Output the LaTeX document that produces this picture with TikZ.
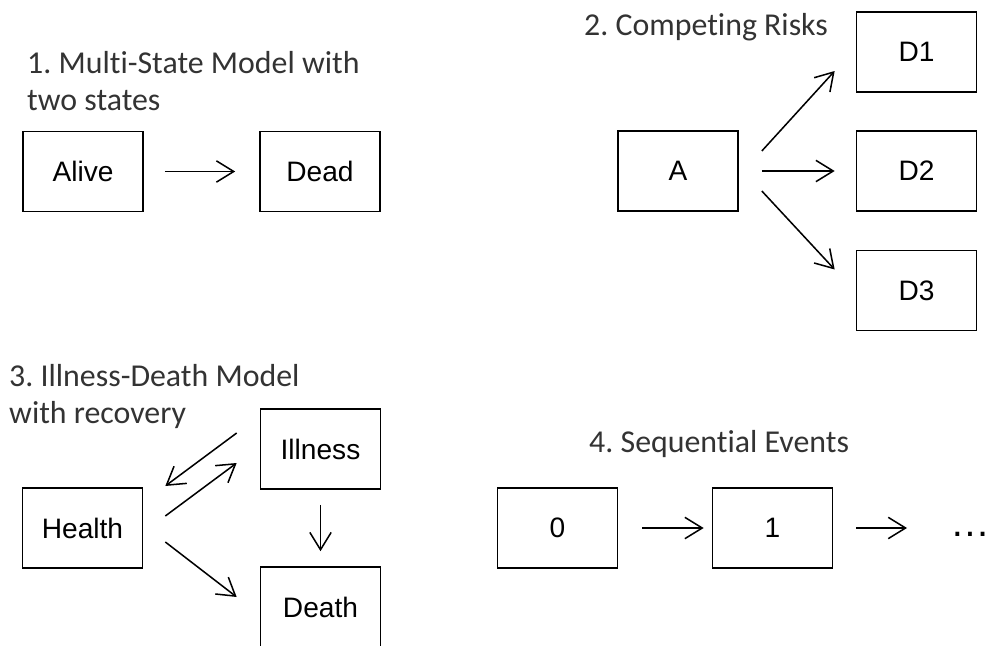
\documentclass[tikz,border=0pt]{standalone}
\usepackage{fontspec}
\setmainfont{Liberation Sans}
\newfontfamily\titlefont[Ligatures=NoCommon]{Carlito}
\usetikzlibrary{arrows.meta,calc}
\frenchspacing

\begin{document}
\begin{tikzpicture}[x=0.3mm,y=-0.3mm,
  state/.style={draw,line width=1.4pt,minimum width=36mm,minimum height=24mm,font=\fontsize{24}{28}\selectfont},
  heading/.style={anchor=base west,align=left,inner sep=0pt,text=black!80,font=\titlefont\fontsize{27.2}{31.5}\selectfont},
  trans/.style={-{Straight Barb[length=5.2mm,width=6.4mm]},line width=1.3pt}]
\useasboundingbox (0,0) rectangle (994,646);
\node[heading] (title1) at (27,110) {1. Multi-State Model with\\two states};
\node[heading] (title2) at (584,35) {2. Competing Risks};
\node[heading] (title3) at (9,423) {3. Illness-Death Model\\with recovery};
\node[heading] (title4) at (589,452) {4. Sequential Events};
\node[state] (alive) at (83,171.5) {Alive};
\node[state] (dead) at (320,171.5) {Dead};
\draw[trans] ($(alive.east)+(21,0)$) -- ($(dead.west)+(-24,0)$);
\node[state] (A) at (678,171) {A};
\node[state] (D1) at (916.5,52) {D1};
\node[state] (D2) at (916.5,171) {D2};
\node[state] (D3) at (916.5,290.5) {D3};
\draw[trans] ($(A.east)+(23,-20)$) -- ($(D1.west)+(-21,19)$);
\draw[trans] ($(A.east)+(23,0)$) -- ($(D2.west)+(-21,0)$);
\draw[trans] ($(A.east)+(23,20)$) -- ($(D3.west)+(-21,-21)$);
\node[state] (health) at (82.5,528) {Health};
\node[state] (illness) at (320.5,449) {Illness};
\node[state] (death) at (320.5,607) {Death};
\draw[trans] ($(illness.west)+(-23,-16)$) -- ($(health.east)+(22,-42)$);
\draw[trans] ($(health.east)+(22,-12)$) -- ($(illness.west)+(-23,14)$);
\draw[trans] ($(illness.south)+(0,15)$) -- ($(death.north)+(0,-15)$);
\draw[trans] ($(health.east)+(22,14)$) -- ($(death.west)+(-23,-10)$);
\node[state] (s0) at (557.5,528) {0};
\node[state] (s1) at (772.5,528) {1};
\node[anchor=west,inner sep=0pt,font=\fontsize{34}{34}\selectfont] (more) at (950,534) {\dots};
\draw[trans] ($(s0.east)+(24,0)$) -- ($(s1.west)+(-8,0)$);
\draw[trans] ($(s1.east)+(23,0)$) -- ($(more.west)+(-43,-6)$);
\end{tikzpicture}
\end{document}
